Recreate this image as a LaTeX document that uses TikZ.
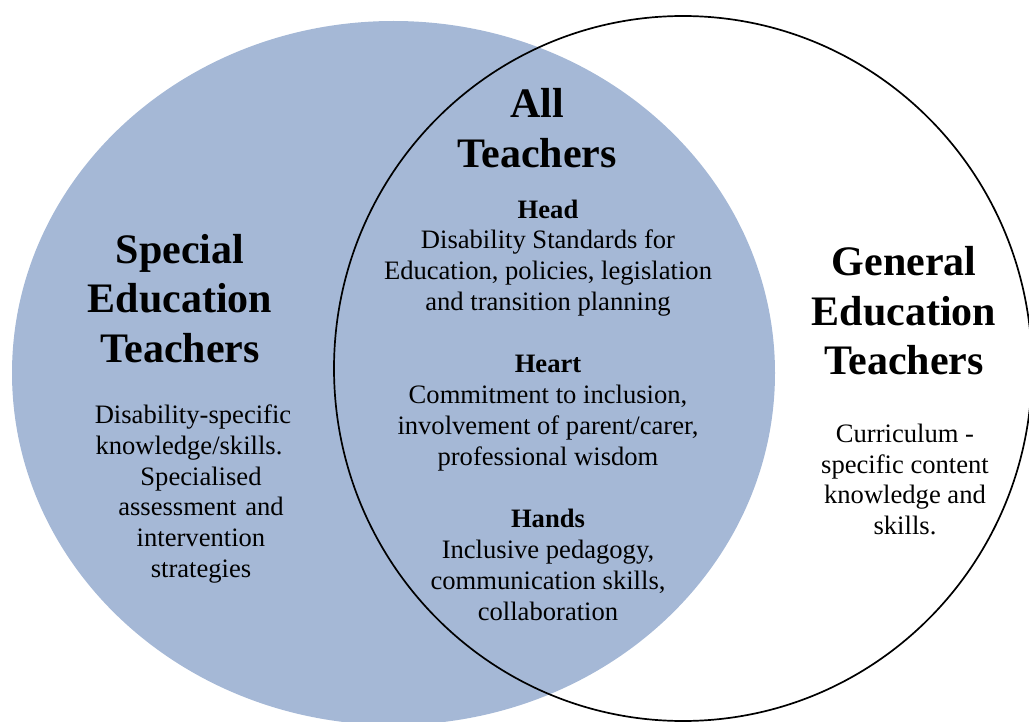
\documentclass[tikz,border=0pt]{standalone}
\usepackage{fontspec}
\setmainfont{Liberation Serif}
\definecolor{vennblue}{RGB}{165,184,214}
\begin{document}
\begin{tikzpicture}[
		x=1pt, y=-1pt,
		declare function = {
				LX = 393.5; LY = 373; LRX = 381.5; LRY = 352;
				RX = 683; RY = 368.5; RRX = 349; RRY = 352.5;
			},
		title/.style = {align=center, inner sep=0pt, font=\fontsize{42}{49.5}\selectfont\bfseries},
		body/.style = {align=center, inner sep=0pt, font=\fontsize{26.6}{30.8}\selectfont},
	]
	\useasboundingbox (0,0) rectangle (1029,722);
	\fill[vennblue] (LX,LY) ellipse [x radius=LRX, y radius=LRY];
	\draw[line width=1.7pt] (RX,RY) ellipse [x radius=RRX, y radius=RRY];
	% titles
	\node[title] (all) at (537,128) {All\\Teachers};
	\node[title] (special) at (180,298.5) {Special\\Education\\Teachers};
	\node[title] (general) at (904,311) {General\\Education\\Teachers};
	% common ground
	\node[body] (head) at (548,258) {\textbf{Head}\\Disability Standards for\\Education, policies, legislation\\and transition planning};
	\node[body] (heart) at (548,413) {\textbf{Heart}\\Commitment to inclusion,\\involvement of parent/carer,\\professional wisdom};
	\node[body] (hands) at (548,565) {\textbf{Hands}\\Inclusive pedagogy,\\communication skills,\\collaboration};
	% own ground
	\node[body, text width=240pt] (specialtext) at (201,494) {Disability-specific\hspace{16pt}\mbox{}\\knowledge/skills.\hspace{24pt}\mbox{}\\Specialised\\assessment and\\intervention\\strategies};
	\node[body] (generaltext) at (905,479.5) {Curriculum -\\specific content\\knowledge and\\skills.};
\end{tikzpicture}
\end{document}
